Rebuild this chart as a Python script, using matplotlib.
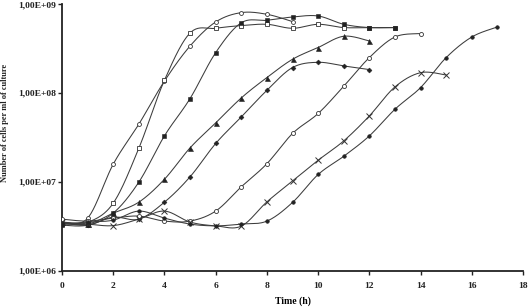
import numpy as np
import matplotlib
matplotlib.use("Agg")
import matplotlib.pyplot as plt
from matplotlib.ticker import FixedLocator, FixedFormatter

# Data: cells per ml (millions)
hours_a = [0, 1, 2, 3, 4, 5, 6, 7, 8, 9]
open_circle = [3.5, 3.9, 15.8, 44.5, 136, 337, 628, 800, 766, 634]

hours_b = list(range(0, 14))
open_square = [3.35, 3.5, 5.76, 23.9, 139, 472, 533, 572, 591, 533, 591, 543, 543, 543]

hours_c = list(range(0, 14))
filled_square = [3.26, 3.26, 4.45, 9.93, 32.9, 86.5, 284, 615, 656, 714, 733, 591, 543, 543]

hours_d = list(range(0, 13))
triangle = [3.53, 3.35, 4.45, 5.91, 10.7, 24.1, 46.0, 87.9, 149, 239, 324, 434, 384]

hours_e = list(range(0, 13))
filled_diamond = [3.45, 3.26, 4.01, 3.81, 5.91, 11.4, 27.0, 53.7, 107, 193, 221, 201, 183]

hours_f = list(range(0, 15))
open_diamond = [3.81, 3.62, 3.91, 4.12, 3.62, 3.62, 4.69, 8.79, 16.0, 35.0, 58.7, 119, 250, 426, 465]

hours_g = list(range(0, 16))
cross = [3.53, 3.35, 3.22, 3.81, 4.69, 3.53, 3.20, 3.18, 5.96, 10.2, 17.5, 28.9, 55.2, 117, 169, 159]

hours_h = list(range(0, 18))
filled_circle = [3.35, 3.53, 3.71, 4.69, 3.91, 3.35, 3.20, 3.35, 3.62, 5.87, 12.1, 19.4, 32.9, 65.6, 115, 250, 426, 552]

y_ticks = [1e6, 1e7, 1e8, 1e9]
y_tick_labels = ["1,00E+06", "1,00E+07", "1,00E+08", "1,00E+09"]
x_ticks = [0, 2, 4, 6, 8, 10, 12, 14, 16, 18]


def smooth(xs, ys, n=24):
    """Excel-like smoothed line (Catmull-Rom Bezier) in (x, log y) space."""
    x = np.asarray(xs, float)
    y = np.log10(np.asarray(ys, float) * 1e6)
    pts = np.column_stack([x, y])
    out = []
    m = len(pts)
    for i in range(m - 1):
        p0 = pts[i - 1] if i > 0 else pts[i]
        p1 = pts[i]
        p2 = pts[i + 1]
        p3 = pts[i + 2] if i + 2 < m else pts[i + 1]
        c1 = p1 + (p2 - p0) / 6.0
        c2 = p2 - (p3 - p1) / 6.0
        t = np.linspace(0, 1, n)[:, None]
        seg = ((1 - t) ** 3) * p1 + 3 * ((1 - t) ** 2) * t * c1 + 3 * (1 - t) * t ** 2 * c2 + t ** 3 * p2
        out.append(seg if i == 0 else seg[1:])
    seg = np.vstack(out)
    return seg[:, 0], 10 ** seg[:, 1]


plt.rcParams['font.family'] = ['Liberation Serif', 'DejaVu Serif']

fig = plt.figure(figsize=(5.28, 3.07), dpi=100)
ax = fig.add_axes([0.1174, 0.118, 0.8733, 0.869])

line_color = "#3c3c3c"
series = [
    (hours_a, open_circle, dict(marker='o', ms=2.8, mfc='white', mec='#333333', mew=0.6)),
    (hours_b, open_square, dict(marker='s', ms=3.5, mfc='white', mec='#333333', mew=0.6)),
    (hours_c, filled_square, dict(marker='s', ms=3.2, mfc='#222222', mec='#222222', mew=0.4)),
    (hours_d, triangle, dict(marker='^', ms=3.6, mfc='#222222', mec='#222222', mew=0.4)),
    (hours_e, filled_diamond, dict(marker='D', ms=2.5, mfc='#222222', mec='#222222', mew=0.4)),
    (hours_f, open_diamond, dict(marker='o', ms=2.9, mfc='white', mec='#333333', mew=0.6)),
    (hours_g, cross, dict(marker='x', ms=3.8, mfc='none', mec='#333333', mew=0.7)),
    (hours_h, filled_circle, dict(marker='o', ms=2.6, mfc='#222222', mec='#222222', mew=0.4)),
]

for xs, ys, mk in series:
    sx, sy = smooth(xs, ys)
    ax.plot(sx, sy, color=line_color, lw=0.75, zorder=2)
    ax.plot(xs, np.asarray(ys) * 1e6, ls='none', zorder=3, **mk)

ax.set_yscale('log')
ax.set_ylim(1e6, 1e9)
ax.set_xlim(0, 18)
ax.yaxis.set_major_locator(FixedLocator(y_ticks))
ax.yaxis.set_major_formatter(FixedFormatter(y_tick_labels))
ax.yaxis.set_minor_locator(FixedLocator([]))
ax.set_xticks(x_ticks)
ax.set_xticklabels([str(v) for v in x_ticks])

for s in ['top', 'right']:
    ax.spines[s].set_visible(False)
for s in ['left', 'bottom']:
    ax.spines[s].set_linewidth(1.3)
    ax.spines[s].set_color('#222222')

ax.tick_params(axis='y', direction='out', length=3, width=1.0, pad=1, labelsize=6.8, colors='#222222')
ax.tick_params(axis='x', direction='out', length=3, width=1.0, pad=5, labelsize=6.8, colors='#222222')
for lab in ax.get_xticklabels() + ax.get_yticklabels():
    lab.set_fontweight('bold')

ax.set_xlabel("Time (h)", fontsize=7, fontweight='bold', labelpad=5)
fig.text(0.009, 0.598, "Number of cells per ml of culture", rotation=90, fontsize=6.0,
         fontweight='bold', ha='center', va='center', color='#222222')

fig.savefig("out.png", dpi=100)
